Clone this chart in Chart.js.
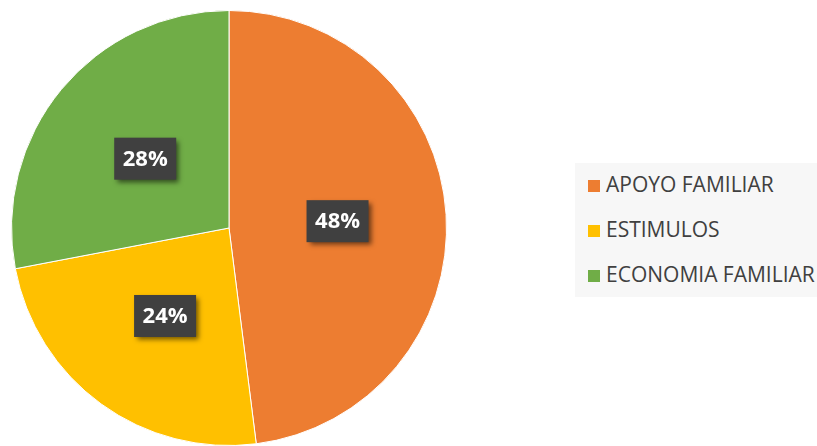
<!DOCTYPE html>
<html>
<head>
<meta charset="utf-8">
<script src="https://cdn.jsdelivr.net/npm/chart.js@4"></script>
<style>
  body { margin: 0; background: #fff; overflow: hidden; }
  #wrap { position: relative; width: 817px; height: 446px; overflow: hidden; }
  #legend {
    position: absolute; left: 575px; top: 163px; width: 260px; height: 134px;
    background: #f7f7f7; font-family: "Open Sans", sans-serif; font-size: 21px; color: #404040;
  }
  .item { position: absolute; left: 13px; height: 26px; line-height: 26px; white-space: nowrap; }
  .item span.sw { display: inline-block; width: 12px; height: 12px; margin-right: 6px; vertical-align: 0px; }
</style>
</head>
<body>
<div id="wrap">
  <canvas id="myChart" width="817" height="446"></canvas>
  <div id="legend"></div>
</div>
<script>
const labels = ['APOYO FAMILIAR', 'ESTIMULOS', 'ECONOMIA FAMILIAR'];
const values = [48, 24, 28];
const colors = ['#ED7D31', '#FFC000', '#70AD47'];

// Data labels (dark boxes)
const boxLabels = {
    id: 'boxLabels',
    afterDatasetsDraw(chart) {
        const ctx = chart.ctx;
        const meta = chart.getDatasetMeta(0);
        meta.data.forEach((arc, i) => {
            const mid = (arc.startAngle + arc.endAngle) / 2;
            const r = arc.outerRadius * 0.5;
            const x = arc.x + Math.cos(mid) * r;
            const y = arc.y + Math.sin(mid) * r;
            const w = 62, h = 42;
            ctx.save();
            ctx.shadowColor = 'rgba(0,0,0,0.55)';
            ctx.shadowBlur = 5;
            ctx.shadowOffsetX = 3;
            ctx.shadowOffsetY = 3;
            ctx.fillStyle = '#404040';
            ctx.fillRect(x - w / 2, y - h / 2, w, h);
            ctx.restore();
            ctx.save();
            ctx.fillStyle = '#ffffff';
            ctx.font = 'bold 22px "Open Sans"';
            ctx.textAlign = 'center';
            ctx.textBaseline = 'middle';
            ctx.fillText(values[i] + '%', x, y + 1);
            ctx.restore();
        });
    }
};

const ctx = document.getElementById('myChart').getContext('2d');

new Chart(ctx, {
    type: 'pie',
    data: {
        labels: labels,
        datasets: [{
            data: values,
            backgroundColor: colors,
            borderColor: '#ffffff',
            borderWidth: 1
        }]
    },
    options: {
        responsive: false,
        animation: false,
        layout: { padding: { left: 11, top: 10, right: 370, bottom: 0 } },
        plugins: {
            legend: { display: false },
            tooltip: { enabled: false }
        }
    },
    plugins: [boxLabels]
});

// Legend
const legend = document.getElementById('legend');
labels.forEach((lab, i) => {
    const div = document.createElement('div');
    div.className = 'item';
    div.style.top = (8 + i * 45) + 'px';
    div.innerHTML = '<span class="sw" style="background:' + colors[i] + '"></span>' + lab;
    legend.appendChild(div);
});
</script>
</body>
</html>
